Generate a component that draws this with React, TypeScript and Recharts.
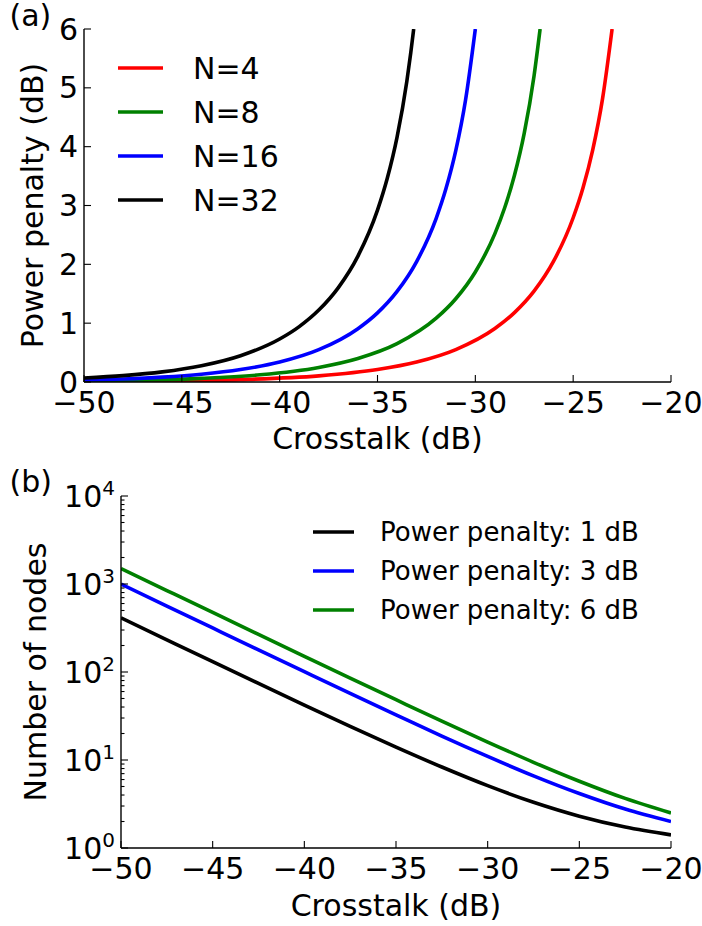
import React from 'react';
import { LineChart, Line, XAxis, YAxis, Legend, Label } from 'recharts';

const FONT = '"DejaVu Sans", "Liberation Sans", sans-serif';

// ---------- Panel (a): power penalty vs crosstalk ----------
const namesA = ['N=4', 'N=8', 'N=16', 'N=32'];
const colorsA = ['#ff0000', '#008000', '#0000ff', '#000000'];

const xN4 = [-50, -46, -42, -38, -35, -33, -31, -29, -28, -27, -26, -25, -24.5, -24, -23.5, -23.01];
const ppN4 = [0.007, 0.016, 0.041, 0.104, 0.211, 0.339, 0.551, 0.909, 1.179, 1.544, 2.053, 2.792, 3.298, 3.947, 4.812, 6.0];

const xN8 = [-50, -47, -44, -41, -38, -36, -34, -32, -31, -30, -29, -28.5, -28, -27.5, -27, -26.69];
const ppN8 = [0.015, 0.03, 0.061, 0.122, 0.248, 0.4, 0.652, 1.084, 1.415, 1.87, 2.522, 2.961, 3.513, 4.229, 5.203, 6.0];

const xN16 = [-50, -48, -46, -44, -42, -40, -38, -36, -35, -34, -33, -32, -31.5, -31, -30.5, -30.0];
const ppN16 = [0.033, 0.052, 0.083, 0.132, 0.211, 0.339, 0.549, 0.906, 1.175, 1.54, 2.047, 2.783, 3.287, 3.932, 4.793, 6.0];

const xN32 = [-50, -48, -46, -44, -42, -40, -39, -38, -37, -36, -35, -34.5, -34, -33.5, -33.3, -33.15];
const ppN32 = [0.068, 0.108, 0.172, 0.277, 0.447, 0.731, 0.942, 1.223, 1.605, 2.14, 2.922, 3.463, 4.163, 5.112, 5.597, 6.0];

const xTicks = [-50, -45, -40, -35, -30, -25, -20];
const yTicksA = [0, 1, 2, 3, 4, 5, 6];

// ---------- Panel (b): number of nodes vs crosstalk ----------
const namesB = ['Power penalty: 1 dB', 'Power penalty: 3 dB', 'Power penalty: 6 dB'];
const colorsB = ['#000000', '#0000ff', '#008000'];
const xB = [-50, -47.5, -45, -42.5, -40, -37.5, -35, -32.5, -30, -27.5, -25, -22.5, -20];
const nodes1dB = [412.4, 232.4, 131.1, 74.2, 42.1, 24.1, 14.0, 8.32, 5.11, 3.31, 2.3, 1.73, 1.41];
const nodes3dB = [998.6, 562.0, 316.5, 178.4, 100.8, 57.1, 32.6, 18.7, 10.98, 6.61, 4.16, 2.77, 2.0];
const nodes6dB = [1498.6, 843.2, 474.6, 267.4, 150.8, 85.2, 48.4, 27.6, 15.98, 9.42, 5.74, 3.66, 2.5];
const yTicksB = [1, 10, 100, 1000, 10000];
const yMinorB = [2, 3, 4, 5, 6, 7, 8, 9, 20, 30, 40, 50, 60, 70, 80, 90, 200, 300, 400, 500, 600, 700, 800, 900, 2000, 3000, 4000, 5000, 6000, 7000, 8000, 9000];

// ---------- data tables built from the arrays ----------
const zip = (xs: number[], ys: number[]) => xs.map((x, i) => ({ x, y: ys[i] }));
const seriesA = [zip(xN4, ppN4), zip(xN8, ppN8), zip(xN16, ppN16), zip(xN32, ppN32)];
const dataB = xB.map((x, i) => ({ x, n1: nodes1dB[i], n3: nodes3dB[i], n6: nodes6dB[i] }));
const keysB = ['n1', 'n3', 'n6'];

// ---------- helpers ----------
const fmt = (v: number) => (v < 0 ? '\u2212' + Math.abs(v) : String(v));
const MAJOR = 7;
const MINOR = 3.5;
const TICK_W = 1.1;
const FRAME_W = 1.4;

const BottomTick = (props: any) => {
  const { x, y, payload } = props;
  return (
    <g>
      <line x1={x} x2={x} y1={y - 10} y2={y - 10 - MAJOR} stroke="#000" strokeWidth={TICK_W} />
      <text x={x} y={y} dy="0.71em" textAnchor="middle" fontSize={30} fontFamily={FONT} fill="#000">
        {fmt(payload.value)}
      </text>
    </g>
  );
};

const TopTick = (props: any) => {
  const { x, y } = props;
  return <line x1={x} x2={x} y1={y} y2={y + MAJOR} stroke="#000" strokeWidth={TICK_W} />;
};

const LeftTickA = (props: any) => {
  const { x, y, payload } = props;
  return (
    <g>
      <line x1={x + 6} x2={x + 6 + MAJOR} y1={y} y2={y} stroke="#000" strokeWidth={TICK_W} />
      <text x={x} y={y} dy="0.355em" textAnchor="end" fontSize={30} fontFamily={FONT} fill="#000">
        {fmt(payload.value)}
      </text>
    </g>
  );
};

const RightTickA = (props: any) => {
  const { x, y } = props;
  return <line x1={x - MAJOR} x2={x} y1={y} y2={y} stroke="#000" strokeWidth={TICK_W} />;
};

const isDecade = (v: number) => Math.abs(Math.log10(v) - Math.round(Math.log10(v))) < 1e-9;

const LeftTickB = (props: any) => {
  const { x, y, payload } = props;
  const v = payload.value as number;
  if (!isDecade(v)) {
    return <line x1={x + 6} x2={x + 6 + MINOR} y1={y} y2={y} stroke="#000" strokeWidth={TICK_W} />;
  }
  const e = Math.round(Math.log10(v));
  return (
    <g>
      <line x1={x + 6} x2={x + 6 + MAJOR} y1={y} y2={y} stroke="#000" strokeWidth={TICK_W} />
      <text x={x} y={y} textAnchor="end" fontSize={30} fontFamily={FONT} fill="#000">
        <tspan dy="0.355em">10</tspan>
        <tspan dy={-12} fontSize={20}>{e}</tspan>
      </text>
    </g>
  );
};

const RightTickB = (props: any) => {
  const { x, y, payload } = props;
  const len = isDecade(payload.value) ? MAJOR : MINOR;
  return <line x1={x - len} x2={x} y1={y} y2={y} stroke="#000" strokeWidth={TICK_W} />;
};

const makeLegend = (names: string[], spacing: number, lineLen: number, textX: number, fontSize: number) =>
  (props: any) => {
    const payload = [...(props.payload || [])].sort(
      (a: any, b: any) => names.indexOf(a.value) - names.indexOf(b.value)
    );
    return (
      <svg width={360} height={200} style={{ display: 'block', overflow: 'visible' }}>
        {payload.map((p: any, i: number) => (
          <g key={p.value}>
            <line x1={0} x2={lineLen} y1={20 + i * spacing} y2={20 + i * spacing} stroke={p.color} strokeWidth={3.6} />
            <text x={textX} y={20 + i * spacing} dy="0.36em" fontSize={fontSize} fontFamily={FONT} fill="#000">
              {p.value}
            </text>
          </g>
        ))}
      </svg>
    );
  };

const LegendA = makeLegend(namesA, 44, 45, 75, 30);
const LegendB = makeLegend(namesB, 39, 41, 67, 26);

const axisLine = { stroke: '#000', strokeWidth: FRAME_W };

export default function App() {
  return (
    <div style={{ position: 'absolute', left: 0, top: 0, width: 702, height: 926, background: '#fff' }}>
      {/* Panel (a) */}
      <div style={{ position: 'absolute', left: 0, top: 0 }}>
        <LineChart width={702} height={460} margin={{ top: 29, right: 31, left: 0, bottom: 0 }}>
          <XAxis
            xAxisId="b"
            dataKey="x"
            type="number"
            domain={[-50, -20]}
            ticks={xTicks}
            interval={0}
            allowDataOverflow
            height={78}
            tickSize={0}
            tickMargin={10}
            tickLine={false}
            axisLine={axisLine}
            tick={<BottomTick />}
          >
            <Label value="Crosstalk (dB)" position="insideTop" offset={46} fontSize={30} fontFamily={FONT} fill="#000" />
          </XAxis>
          <XAxis
            xAxisId="t"
            orientation="top"
            dataKey="x"
            type="number"
            domain={[-50, -20]}
            ticks={xTicks}
            interval={0}
            allowDataOverflow
            height={0}
            tickSize={0}
            tickMargin={0}
            tickLine={false}
            axisLine={axisLine}
            tick={<TopTick />}
          />
          <YAxis
            yAxisId="l"
            type="number"
            domain={[0, 6]}
            ticks={yTicksA}
            interval={0}
            allowDataOverflow
            width={84}
            tickSize={0}
            tickMargin={6}
            tickLine={false}
            axisLine={axisLine}
            tick={<LeftTickA />}
          >
            <Label
              value="Power penalty (dB)"
              angle={-90}
              position="insideLeft"
              offset={32}
              fontSize={30}
              fontFamily={FONT}
              fill="#000"
              style={{ textAnchor: 'middle' }}
            />
          </YAxis>
          <YAxis
            yAxisId="r"
            orientation="right"
            type="number"
            domain={[0, 6]}
            ticks={yTicksA}
            interval={0}
            allowDataOverflow
            width={0}
            tickSize={0}
            tickMargin={0}
            tickLine={false}
            axisLine={axisLine}
            tick={<RightTickA />}
          />
          {seriesA.map((d, i) => (
            <Line
              key={namesA[i]}
              xAxisId="b"
              yAxisId="l"
              data={d}
              dataKey="y"
              name={namesA[i]}
              type="monotone"
              stroke={colorsA[i]}
              strokeWidth={3.6}
              dot={false}
              activeDot={false}
              isAnimationActive={false}
            />
          ))}
          <Legend
            content={LegendA}
            layout="vertical"
            align="center"
            verticalAlign="middle"
            wrapperStyle={{ left: 118, top: 47.7, width: 300, height: 200 }}
          />
        </LineChart>
      </div>

      {/* Panel (b) */}
      <div style={{ position: 'absolute', left: 0, top: 460 }}>
        <LineChart width={702} height={466} data={dataB} margin={{ top: 36, right: 31, left: 0, bottom: 0 }}>
          <XAxis
            xAxisId="b"
            dataKey="x"
            type="number"
            domain={[-50, -20]}
            ticks={xTicks}
            interval={0}
            allowDataOverflow
            height={78}
            tickSize={0}
            tickMargin={10}
            tickLine={false}
            axisLine={axisLine}
            tick={<BottomTick />}
          >
            <Label value="Crosstalk (dB)" position="insideTop" offset={47} fontSize={30} fontFamily={FONT} fill="#000" />
          </XAxis>
          <XAxis
            xAxisId="t"
            orientation="top"
            dataKey="x"
            type="number"
            domain={[-50, -20]}
            ticks={xTicks}
            interval={0}
            allowDataOverflow
            height={0}
            tickSize={0}
            tickMargin={0}
            tickLine={false}
            axisLine={axisLine}
            tick={<TopTick />}
          />
          <YAxis
            yAxisId="l"
            type="number"
            scale="log"
            domain={[1, 10000]}
            ticks={[...yTicksB, ...yMinorB]}
            interval={0}
            allowDataOverflow
            width={121}
            tickSize={0}
            tickMargin={6}
            tickLine={false}
            axisLine={axisLine}
            tick={<LeftTickB />}
          >
            <Label
              value="Number of nodes"
              angle={-90}
              position="insideLeft"
              offset={35}
              fontSize={30}
              fontFamily={FONT}
              fill="#000"
              style={{ textAnchor: 'middle' }}
            />
          </YAxis>
          <YAxis
            yAxisId="r"
            orientation="right"
            type="number"
            scale="log"
            domain={[1, 10000]}
            ticks={[...yTicksB, ...yMinorB]}
            interval={0}
            allowDataOverflow
            width={0}
            tickSize={0}
            tickMargin={0}
            tickLine={false}
            axisLine={axisLine}
            tick={<RightTickB />}
          />
          {keysB.map((k, i) => (
            <Line
              key={k}
              xAxisId="b"
              yAxisId="l"
              dataKey={k}
              name={namesB[i]}
              type="monotone"
              stroke={colorsB[i]}
              strokeWidth={3.6}
              dot={false}
              activeDot={false}
              isAnimationActive={false}
            />
          ))}
          <Legend
            content={LegendB}
            layout="vertical"
            align="center"
            verticalAlign="middle"
            wrapperStyle={{ left: 313, top: 52, width: 360, height: 200 }}
          />
        </LineChart>
      </div>

      {/* panel tags */}
      <svg width={702} height={926} style={{ position: 'absolute', left: 0, top: 0, pointerEvents: 'none' }}>
        <text x={9.5} y={25.5} fontSize={30} fontFamily={FONT} fill="#000">(a)</text>
        <text x={9.5} y={492} fontSize={30} fontFamily={FONT} fill="#000">(b)</text>
      </svg>
    </div>
  );
}
